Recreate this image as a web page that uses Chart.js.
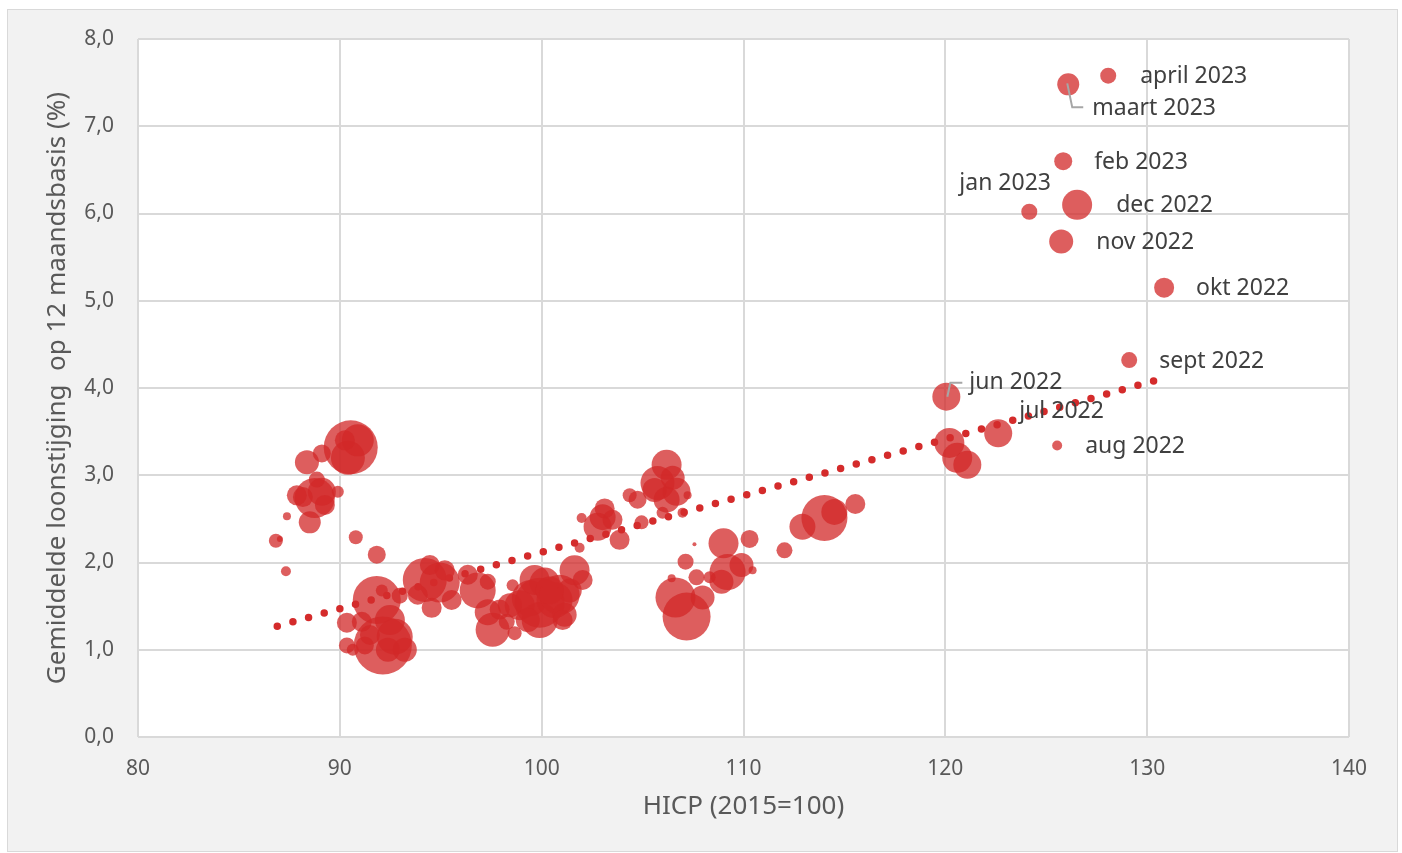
<!DOCTYPE html>
<html>
<head>
<meta charset="utf-8">
<script src="https://cdn.jsdelivr.net/npm/chart.js@4.4.0/dist/chart.umd.min.js"></script>
<style>
  body { margin: 0; background: #ffffff; }
  #frame { position: absolute; left: 7px; top: 9px; width: 1391px; height: 843px; box-sizing: border-box; background: #f2f2f2; border: 1px solid #d9d9d9; }
  canvas { display: block; }
</style>
</head>
<body>
<div id="frame"><canvas id="myChart" width="1389" height="841"></canvas></div>
<script>
// HICP (2015=100), gemiddelde loonstijging (%), bubbelgrootte
const hicp = [86.83, 87.03, 87.33, 87.38, 87.87, 88.17, 88.51, 88.76, 89.11, 88.86, 89.26, 89.90, 88.37, 89.11, 90.40, 90.54, 90.89, 90.25, 90.79, 91.83,
  90.35, 90.35, 90.64, 91.09, 91.24, 91.49, 91.83, 92.13, 92.72, 92.48, 92.97, 92.38, 93.22, 92.08,
  94.21, 94.95, 94.55, 95.54, 94.46, 95.20, 93.86,
  96.83, 96.34, 97.33, 97.57, 97.33, 97.92, 98.27, 98.66, 98.56,
  99.90, 99.41, 99.65, 100.15, 98.91, 99.90, 100.64, 100.89, 101.14, 101.04, 101.63, 102.03, 101.39, 100.40, 99.31, 101.88, 101.98, 98.42,
  103.02, 102.77, 103.51, 103.12, 103.86, 104.36, 104.75, 104.95, 106.19, 105.74, 106.49, 106.68, 106.19, 105.59, 107.23, 106.98, 105.99,
  107.57, 109.01, 110.30, 107.13, 106.44, 107.67, 107.97, 106.63, 107.18, 108.91, 109.21, 109.90, 110.45, 108.32,
  112.03, 112.92, 114.01, 114.50, 115.54,
  120.20, 120.59, 121.09,
  120.05, 122.62, 125.54, 129.11, 130.84, 125.74, 126.53, 124.16, 125.84, 126.09, 128.07];
const wage = [2.25, 2.27, 1.90, 2.53, 2.77, 2.75, 2.46, 2.74, 2.81, 2.95, 2.66, 2.81, 3.15, 3.25, 3.20, 3.32, 3.40, 3.40, 2.29, 2.09,
  1.31, 1.05, 1.00, 1.32, 1.05, 1.17, 1.57, 1.05, 1.15, 1.34, 1.62, 1.00, 1.00, 1.68,
  1.80, 1.77, 1.48, 1.57, 1.97, 1.91, 1.63,
  1.68, 1.86, 1.78, 1.23, 1.43, 1.46, 1.32, 1.19, 1.74,
  1.54, 1.59, 1.80, 1.77, 1.51, 1.34, 1.57, 1.63, 1.40, 1.34, 1.91, 1.80, 1.68, 1.68, 1.34, 2.17, 2.51, 1.51,
  2.52, 2.41, 2.49, 2.62, 2.26, 2.77, 2.72, 2.46, 3.12, 2.91, 2.97, 2.81, 2.72, 2.83, 2.77, 2.57, 2.57,
  2.21, 2.22, 2.27, 2.01, 1.82, 1.83, 1.60, 1.60, 1.38, 1.78, 1.89, 1.97, 1.91, 1.83,
  2.14, 2.41, 2.51, 2.58, 2.67,
  3.37, 3.20, 3.12,
  3.90, 3.48, 3.34, 4.32, 5.15, 5.68, 6.10, 6.02, 6.60, 7.48, 7.58];
const size = [7, 3, 5, 4, 10, 10, 11, 20, 14, 8, 10, 6, 12, 9, 17, 27, 16, 10, 7, 9,
  10, 8, 6, 10, 9, 10, 24, 29, 18, 15, 8, 12, 12, 6,
  22, 20, 10, 10, 10, 10, 10,
  18, 10, 8, 17, 13, 10, 8, 7, 6,
  25, 18, 15, 15, 15, 18, 18, 20, 12, 10, 15, 10, 12, 14, 12, 5, 5, 12,
  13, 14, 10, 10, 10, 7, 9, 7, 15, 17, 12, 14, 13, 12, 4, 5, 6,
  2, 15, 9, 8, 4, 8, 12, 20, 24, 12, 18, 12, 4, 6,
  8, 13, 23, 13, 10,
  15, 15, 14,
  14, 14, 5, 8, 10, 12, 15, 8, 9, 11, 8];

const labelText = ['jun 2022', 'jul 2022', 'aug 2022', 'sept 2022', 'okt 2022', 'nov 2022', 'dec 2022', 'jan 2023', 'feb 2023', 'maart 2023', 'april 2023'];
const labelIdx = labelText.map((t, i) => hicp.length - labelText.length + i);

// trendlijn
const trendX = [86.9, 130.45];
const trendY = [1.27, 4.09];

// label offsets (px) vanaf het bubbelmidden, plus optionele verbindingslijn
const labelOffset = [
  { dx: 23, dy: -14, leader: [[1, 0], [4, -14], [16, -14]] },
  { dx: 21, dy: -22 },
  { dx: 28, dy: 1 },
  { dx: 30, dy: 1 },
  { dx: 32, dy: 1 },
  { dx: 35, dy: 1 },
  { dx: 39, dy: 1 },
  { dx: -70, dy: -28 },
  { dx: 31, dy: 1 },
  { dx: 24, dy: 24, leader: [[-1, -1], [4, 23], [15, 23]] },
  { dx: 32, dy: 1 }
];

const FONT = '"Noto Sans", Lato, sans-serif';

const plotBg = {
  id: 'plotBg',
  beforeDraw(chart) {
    const a = chart.chartArea;
    chart.ctx.save();
    chart.ctx.fillStyle = '#ffffff';
    chart.ctx.fillRect(a.left, a.top, a.right - a.left, a.bottom - a.top);
    chart.ctx.restore();
  }
};

const monthLabels = {
  id: 'monthLabels',
  afterDatasetsDraw(chart) {
    const ctx = chart.ctx;
    const xs = chart.scales.x, ys = chart.scales.y;
    ctx.save();
    ctx.font = '23px ' + FONT;
    ctx.fillStyle = '#404040';
    ctx.textBaseline = 'middle';
    ctx.textAlign = 'left';
    labelText.forEach((txt, i) => {
      const k = labelIdx[i];
      const px = xs.getPixelForValue(hicp[k]);
      const py = ys.getPixelForValue(wage[k]);
      const off = labelOffset[i];
      if (off.leader) {
        ctx.strokeStyle = '#a6a6a6';
        ctx.lineWidth = 2;
        ctx.beginPath();
        off.leader.forEach((p, j) => {
          if (j === 0) ctx.moveTo(px + p[0], py + p[1]);
          else ctx.lineTo(px + p[0], py + p[1]);
        });
        ctx.stroke();
      }
      ctx.fillText(txt, px + off.dx, py + off.dy);
    });
    ctx.restore();
  }
};

const ctx = document.getElementById('myChart').getContext('2d');
new Chart(ctx, {
  type: 'bubble',
  data: {
    datasets: [
      {
        type: 'scatter',
        label: 'trend',
        data: trendX.map((x, i) => ({ x: x, y: trendY[i] })),
        showLine: true,
        pointRadius: 0,
        borderColor: '#d42b2b',
        borderWidth: 7.5,
        borderDash: [0, 16.25],
        borderCapStyle: 'round',
        order: 0
      },
      {
        label: 'loonstijging',
        data: hicp.map((x, i) => ({ x: x, y: wage[i], r: size[i] })),
        backgroundColor: 'rgba(210, 40, 40, 0.75)',
        borderWidth: 0,
        hoverRadius: 0,
        order: 1
      }
    ]
  },
  options: {
    responsive: false,
    animation: false,
    layout: { autoPadding: false, padding: { left: 0, right: 48, top: 29, bottom: 0 } },
    plugins: {
      legend: { display: false },
      tooltip: { enabled: false }
    },
    scales: {
      x: {
        type: 'linear',
        min: 80,
        max: 140,
        afterFit: (s) => { s.height = 114; s.paddingLeft = 0; s.paddingRight = 0; },
        ticks: { stepSize: 10, padding: 19, color: '#595959', font: { family: FONT, size: 21 } },
        grid: { color: '#d9d9d9', lineWidth: 2, drawTicks: false },
        border: { display: false },
        title: { display: true, text: 'HICP (2015=100)', color: '#595959', font: { family: FONT, size: 26 }, padding: { top: 0, bottom: 29 } }
      },
      y: {
        min: 0,
        max: 8,
        afterFit: (s) => { s.width = 130; s.paddingTop = 0; s.paddingBottom = 0; },
        ticks: {
          stepSize: 1,
          padding: 24,
          color: '#595959',
          font: { family: FONT, size: 21 },
          callback: (v) => v.toFixed(1).replace('.', ',')
        },
        grid: { color: '#d9d9d9', lineWidth: 2, drawTicks: false },
        border: { display: false },
        title: { display: true, text: 'Gemiddelde loonstijging  op 12 maandsbasis (%)', color: '#595959', font: { family: FONT, size: 26 }, padding: { top: 34, bottom: 0 } }
      }
    }
  },
  plugins: [plotBg, monthLabels]
});
</script>
</body>
</html>
